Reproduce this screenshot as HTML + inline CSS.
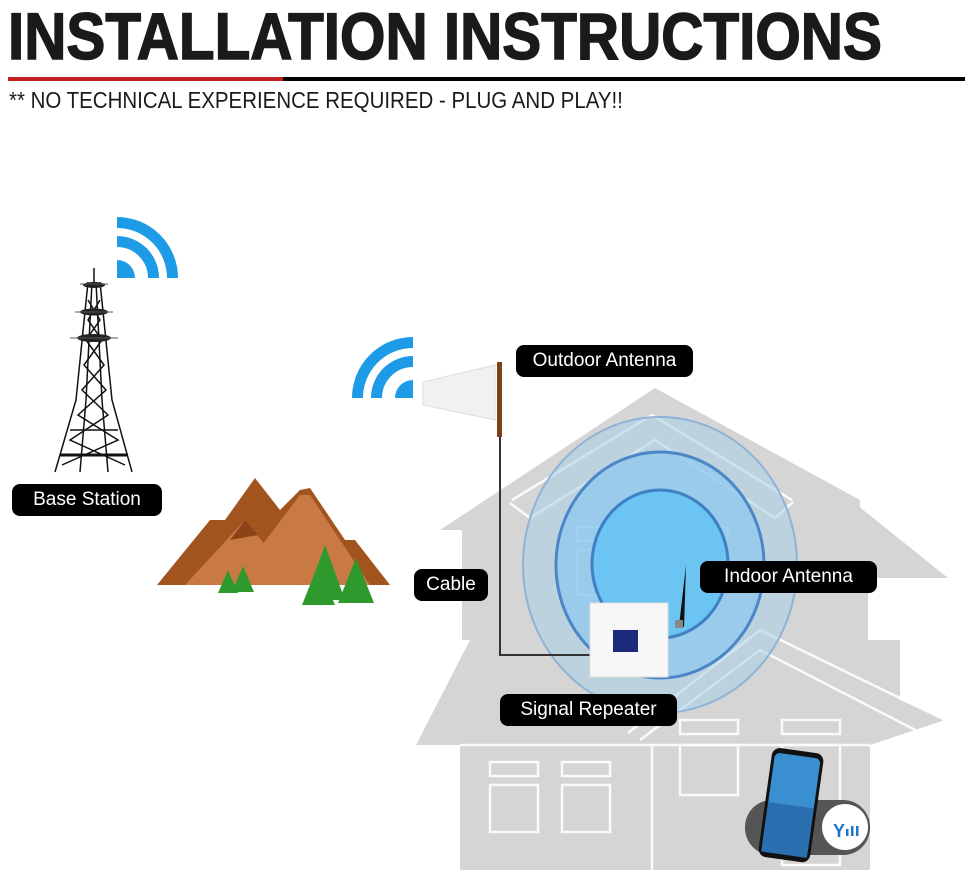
<!DOCTYPE html>
<html><head><meta charset="utf-8"><style>
html,body{margin:0;padding:0;background:#fff;}
body{width:970px;height:875px;position:relative;overflow:hidden;font-family:"Liberation Sans",sans-serif;}
.t{position:absolute;left:8px;top:-2px;font-weight:bold;font-size:66px;color:#1a1a1a;white-space:nowrap;transform:scaleX(0.885);transform-origin:0 0;-webkit-text-stroke:1.5px #1a1a1a;}
.s{position:absolute;left:9px;top:87px;font-size:23px;color:#1a1a1a;white-space:nowrap;transform:scaleX(0.89);transform-origin:0 0;}
.lbl{position:absolute;background:#000;color:#fff;border-radius:8px;font-size:19px;height:32px;line-height:32px;text-align:center;white-space:nowrap;}
</style></head><body>
<div class="t">INSTALLATION INSTRUCTIONS</div>
<div style="position:absolute;left:8px;top:77px;width:275px;height:4px;background:#c41f1f"></div>
<div style="position:absolute;left:283px;top:77px;width:682px;height:4px;background:#000"></div>
<div class="s">** NO TECHNICAL EXPERIENCE REQUIRED - PLUG AND PLAY!!</div>

<svg width="970" height="875" style="position:absolute;left:0;top:0">
<g fill="#d5d5d5">
<polygon points="655,388 440,530 462,530 462,640 860,640 860,500"/>
<polygon points="800,497 847,497 948,578 868,578 868,745 760,745 760,600 800,600"/>
<polygon points="470,640 900,640 900,700 945,720 870,745 416,745"/>
<rect x="460" y="740" width="410" height="130"/>
</g>
<g fill="none" stroke="#fff" stroke-width="2.5" opacity="0.9">
<polyline points="512,500 652,415 792,500"/>
<polyline points="510,503 530,518 655,440 775,518 793,502"/>
<polyline points="628,733 760,630 945,720"/>
<polyline points="640,740 760,650 925,735"/>
<line x1="460" y1="745" x2="870" y2="745"/>
<line x1="652" y1="745" x2="652" y2="870"/>
<rect x="490" y="762" width="48" height="14"/><rect x="490" y="785" width="48" height="47"/>
<rect x="562" y="762" width="48" height="14"/><rect x="562" y="785" width="48" height="47"/>
<rect x="680" y="720" width="58" height="14"/><rect x="680" y="745" width="58" height="50"/>
<rect x="782" y="720" width="58" height="14"/><rect x="782" y="745" width="58" height="120"/>
<rect x="577" y="527" width="48" height="14"/><rect x="577" y="550" width="48" height="45"/>
<rect x="680" y="527" width="48" height="14"/>
</g>
<ellipse cx="660" cy="565" rx="137" ry="148" fill="#a9cfe8" fill-opacity="0.55" stroke="#8fb3d6" stroke-width="2"/>
<ellipse cx="660" cy="565" rx="104" ry="113" fill="#8cc8ee" fill-opacity="0.7" stroke="#4a86c8" stroke-width="3"/>
<ellipse cx="660" cy="564" rx="68" ry="74" fill="#6cc4f2" stroke="#3f7fc4" stroke-width="3"/>
<polyline points="500,435 500,655 592,655" fill="none" stroke="#333" stroke-width="2"/>
<polygon points="423,382 495,365 495,420 423,405" fill="#f1f1f1" stroke="#ddd"/>
<rect x="497" y="362" width="5" height="75" fill="#7a4216"/>
<!-- wifi 1 -->
<g fill="none" stroke="#1d9be6" stroke-width="11">
<path d="M117,222.5 A55.5,55.5 0 0 1 172.5,278"/>
<path d="M117,241.5 A36.5,36.5 0 0 1 153.5,278"/>
</g>
<path d="M117,260 A18,18 0 0 1 135,278 L117,278Z" fill="#1d9be6"/>
<!-- wifi 2 -->
<g fill="none" stroke="#1d9be6" stroke-width="11">
<path d="M357.5,398 A55.5,55.5 0 0 1 413,342.5"/>
<path d="M376.5,398 A36.5,36.5 0 0 1 413,361.5"/>
</g>
<path d="M395,398 A18,18 0 0 1 413,380 L413,398Z" fill="#1d9be6"/>
<!-- tower -->
<g stroke="#111" stroke-width="1.5" fill="none">
<line x1="94" y1="268" x2="94" y2="282"/>
<polyline points="88,282 76,400 55,472"/><polyline points="100,282 112,400 132,472"/>
<polyline points="92,282 86,400 80,472"/><polyline points="96,282 102,400 108,472"/>
<path d="M88,300 L100,320 L86,340 L104,365 L82,390 L108,415 L70,440 L125,465 M100,300 L88,320 L102,340 L84,365 L106,390 L78,415 L118,440 L62,465"/>
<line x1="60" y1="455" x2="128" y2="455" stroke-width="3"/>
<line x1="70" y1="430" x2="118" y2="430"/>
</g>
<g fill="#222">
<ellipse cx="94" cy="285" rx="11" ry="3"/><ellipse cx="94" cy="312" rx="14" ry="3.5"/><ellipse cx="94" cy="338" rx="17" ry="4"/>
</g>
<g stroke="#555" stroke-width="1"><line x1="75" y1="312" x2="113" y2="312"/><line x1="70" y1="338" x2="118" y2="338"/><line x1="80" y1="284" x2="108" y2="284"/></g>
<!-- mountains -->
<polygon points="157,585 210,520 225,520 255,478 280,510 300,490 310,488 345,540 355,540 390,585" fill="#a2541f"/>
<polygon points="185,585 245,520 265,545 300,585" fill="#c97a44"/>
<polygon points="262,545 300,495 310,495 370,585 300,585" fill="#c97a44"/>
<polygon points="230,540 245,520 258,535" fill="#8a4418"/>
<g fill="#2e9a2e">
<polygon points="228,570 218,593 238,593"/><polygon points="243,566 232,592 254,592"/>
<polygon points="325,545 305,600 345,600"/><polygon points="356,558 338,603 374,603"/><polygon points="318,565 302,605 335,605"/>
</g>
<!-- repeater -->
<rect x="590" y="603" width="78" height="74" fill="#f7f7f7" stroke="#ddd"/>
<rect x="613" y="630" width="25" height="22" fill="#1b2a7a"/>
<polygon points="679,626 686,565 684,627" fill="#111"/>
<rect x="675" y="620" width="8" height="8" fill="#888"/>
<!-- toggle & phone -->
<rect x="745" y="800" width="125" height="55" rx="27" fill="#555"/>
<circle cx="845" cy="827" r="23" fill="#fff"/>
<text x="833" y="837" font-family="Liberation Sans" font-size="18" fill="#1d76c8" font-weight="bold">Y</text>
<g fill="#1d76c8"><rect x="846" y="829" width="2.5" height="7"/><rect x="851" y="826" width="2.5" height="10"/><rect x="856" y="826" width="2.5" height="10"/></g>
<g transform="rotate(8 790 805)">
<rect x="765" y="750" width="52" height="110" rx="8" fill="#111"/>
<rect x="768" y="755" width="46" height="100" rx="5" fill="#3a8fd0"/>
<rect x="768" y="805" width="46" height="50" fill="#2a6fb0"/>
</g>
</svg>

<div class="lbl" style="left:516px;top:345px;width:177px">Outdoor Antenna</div>
<div class="lbl" style="left:12px;top:484px;width:150px">Base Station</div>
<div class="lbl" style="left:414px;top:569px;width:74px">Cable</div>
<div class="lbl" style="left:700px;top:561px;width:177px">Indoor Antenna</div>
<div class="lbl" style="left:500px;top:694px;width:177px">Signal Repeater</div>
</body></html>
